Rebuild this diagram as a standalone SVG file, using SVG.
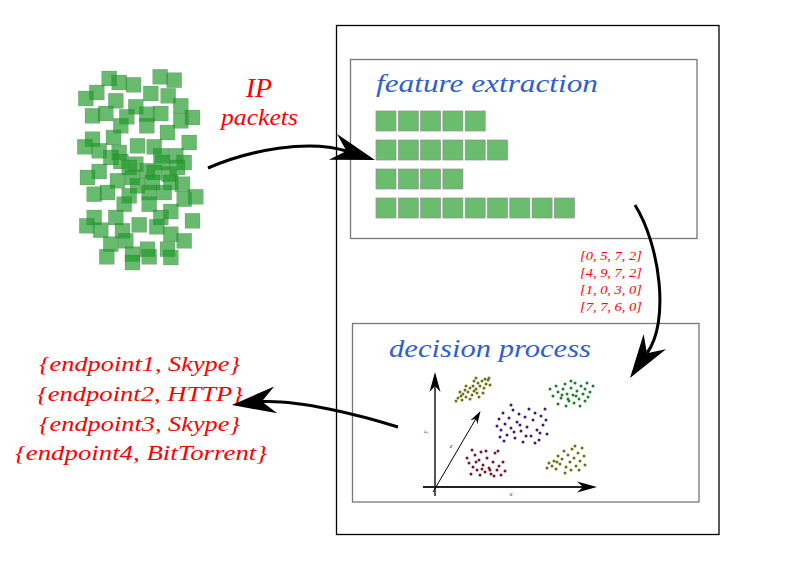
<svg xmlns="http://www.w3.org/2000/svg" xmlns:xlink="http://www.w3.org/1999/xlink" width="795" height="562" viewBox="0 0 795 562">
<style>
.pk{fill:#219b29;fill-opacity:0.68;stroke:#3a3a3a;stroke-opacity:0.2;stroke-width:0.7}
.sq{fill:#69bd6d;stroke:#8f8f8f;stroke-width:0.7}
.box{fill:none;stroke:#777;stroke-width:1.3}
.title{font-family:"Liberation Serif",serif;font-style:italic;font-size:26px;fill:#2f5fd0}
.red{font-family:"Liberation Serif",serif;font-style:italic;fill:#ff0000}
.conn{fill:none;stroke:#000;stroke-width:3}
.ol{fill:#6e6e10}.gr{fill:#1e7d2a}.pu{fill:#3b1a7d}.rd{fill:#7b1620}
.ax{font-family:"Liberation Serif",serif;font-style:italic;font-size:7px;fill:#444}
</style>
<defs>
<path id="stealth" d="M0,0 L-44,-13.5 L-30,0 L-44,13.5 Z" fill="#000"/>
<path id="axhead" d="M0,0 L-20,-5.5 L-14,0 L-20,5.5 Z" fill="#000"/>
<path id="zhead" d="M0,0 L-13,-4 L-9,0 L-13,4 Z" fill="#000"/>
<rect id="p" width="15" height="15" class="pk"/>
<rect id="s" width="20" height="20" class="sq"/>
<circle id="d" r="1.5"/>
</defs>
<rect width="795" height="562" fill="#fff"/>

<g id="packets">
<use href="#p" x="101.7" y="71"/><use href="#p" x="111.7" y="75"/><use href="#p" x="126" y="77.3"/><use href="#p" x="152.7" y="69.3"/><use href="#p" x="166.7" y="72.7"/>
<use href="#p" x="89.3" y="85"/><use href="#p" x="78.3" y="91"/><use href="#p" x="143.3" y="86"/><use href="#p" x="160.7" y="88.3"/><use href="#p" x="108.3" y="93.3"/>
<use href="#p" x="128.3" y="99.3"/><use href="#p" x="173.3" y="98.3"/><use href="#p" x="85" y="108.3"/><use href="#p" x="98.3" y="106"/><use href="#p" x="119.3" y="109.3"/>
<use href="#p" x="139.3" y="106.7"/><use href="#p" x="153.3" y="106"/><use href="#p" x="185" y="110"/><use href="#p" x="173.3" y="113.3"/><use href="#p" x="113.3" y="118.3"/>
<use href="#p" x="139.3" y="118.3"/><use href="#p" x="160" y="125"/><use href="#p" x="85" y="131.7"/><use href="#p" x="106" y="130"/><use href="#p" x="181.7" y="135"/>
<use href="#p" x="77.3" y="139.3"/><use href="#p" x="91.7" y="143.3"/><use href="#p" x="130" y="138.3"/><use href="#p" x="146.7" y="139.3"/><use href="#p" x="111.7" y="145"/>
<use href="#p" x="153.3" y="148.3"/><use href="#p" x="168.3" y="148.3"/><use href="#p" x="103.3" y="150"/><use href="#p" x="113.3" y="154"/><use href="#p" x="128.3" y="156.7"/>
<use href="#p" x="155" y="155"/><use href="#p" x="176.7" y="155"/><use href="#p" x="91.7" y="164"/><use href="#p" x="80" y="170"/><use href="#p" x="121.7" y="160"/>
<use href="#p" x="140" y="163.3"/><use href="#p" x="146.7" y="165"/><use href="#p" x="161.7" y="166.7"/><use href="#p" x="170" y="160"/><use href="#p" x="110" y="173.3"/>
<use href="#p" x="125" y="170"/><use href="#p" x="130" y="178.3"/><use href="#p" x="145" y="175"/><use href="#p" x="163.3" y="175"/><use href="#p" x="175" y="176.7"/>
<use href="#p" x="86.7" y="186.7"/><use href="#p" x="100" y="185"/><use href="#p" x="121.7" y="188.3"/><use href="#p" x="141.7" y="185"/><use href="#p" x="156.7" y="185"/>
<use href="#p" x="176.7" y="191.7"/><use href="#p" x="188.3" y="189.3"/><use href="#p" x="116.7" y="196.7"/><use href="#p" x="141.7" y="196.7"/><use href="#p" x="163.3" y="204"/>
<use href="#p" x="86.7" y="210"/><use href="#p" x="108.3" y="210"/><use href="#p" x="153.3" y="210"/><use href="#p" x="185" y="213.3"/><use href="#p" x="79.3" y="218.3"/>
<use href="#p" x="93.3" y="222.7"/><use href="#p" x="115" y="223.3"/><use href="#p" x="131.7" y="217.3"/><use href="#p" x="149.3" y="219.3"/><use href="#p" x="163.3" y="226.7"/>
<use href="#p" x="176.7" y="233.3"/><use href="#p" x="103.3" y="236.7"/><use href="#p" x="118.3" y="233.3"/><use href="#p" x="140" y="241.7"/><use href="#p" x="160" y="241.7"/>
<use href="#p" x="99.3" y="249.3"/><use href="#p" x="125" y="246.7"/><use href="#p" x="141.7" y="249.3"/><use href="#p" x="163.3" y="250"/><use href="#p" x="125" y="255"/>
</g>

<g id="ip-label">
<text class="red" x="259" y="97" font-size="28" text-anchor="middle">IP</text>
<text class="red" x="221" y="125" font-size="24" textLength="77" lengthAdjust="spacingAndGlyphs">packets</text>
</g>

<g id="system">
<rect x="336.5" y="25.5" width="382.5" height="509" fill="none" stroke="#000" stroke-width="1.3"/>
</g>

<g id="feature-extraction">
<rect class="box" x="350.5" y="59.5" width="346.5" height="179"/>
<text class="title" x="376" y="92" textLength="222" lengthAdjust="spacingAndGlyphs">feature extraction</text>
<use href="#s" x="376" y="111"/><use href="#s" x="398.3" y="111"/><use href="#s" x="420.6" y="111"/><use href="#s" x="442.9" y="111"/><use href="#s" x="465.2" y="111"/>
<use href="#s" x="376" y="140"/><use href="#s" x="398.3" y="140"/><use href="#s" x="420.6" y="140"/><use href="#s" x="442.9" y="140"/><use href="#s" x="465.2" y="140"/><use href="#s" x="487.5" y="140"/>
<use href="#s" x="376" y="169"/><use href="#s" x="398.3" y="169"/><use href="#s" x="420.6" y="169"/><use href="#s" x="442.9" y="169"/>
<use href="#s" x="376" y="198"/><use href="#s" x="398.3" y="198"/><use href="#s" x="420.6" y="198"/><use href="#s" x="442.9" y="198"/><use href="#s" x="465.2" y="198"/><use href="#s" x="487.5" y="198"/><use href="#s" x="509.8" y="198"/><use href="#s" x="532.1" y="198"/><use href="#s" x="554.4" y="198"/>
</g>

<g id="vectors">
<text class="red" font-size="13" x="580" y="260" textLength="62" lengthAdjust="spacingAndGlyphs">[0, 5, 7, 2]</text>
<text class="red" font-size="13" x="580" y="277" textLength="62" lengthAdjust="spacingAndGlyphs">[4, 9, 7, 2]</text>
<text class="red" font-size="13" x="580" y="294" textLength="62" lengthAdjust="spacingAndGlyphs">[1, 0, 3, 0]</text>
<text class="red" font-size="13" x="580" y="311" textLength="62" lengthAdjust="spacingAndGlyphs">[7, 7, 6, 0]</text>
</g>

<g id="decision-process">
<rect class="box" x="352.5" y="323.5" width="346.5" height="178.5"/>
<text class="title" x="389" y="357" textLength="202" lengthAdjust="spacingAndGlyphs">decision process</text>
<line x1="435" y1="386" x2="435" y2="496" stroke="#555" stroke-width="2"/>
<use href="#axhead" transform="translate(435,372) rotate(-90)"/>
<line x1="423" y1="487" x2="584" y2="487" stroke="#222" stroke-width="2"/>
<use href="#axhead" transform="translate(597,487)"/>
<line x1="433" y1="492" x2="476" y2="418.5" stroke="#000" stroke-width="1"/>
<use href="#zhead" transform="translate(480.5,411) rotate(-59.6)"/>
<text class="ax" transform="translate(427,432) rotate(-90)" text-anchor="middle">y</text>
<text class="ax" x="451" y="448" text-anchor="middle">z</text>
<text class="ax" x="511" y="496" text-anchor="middle">x</text>
<g class="ol">
<use href="#d" x="456" y="401"/><use href="#d" x="458" y="398"/><use href="#d" x="461" y="396"/><use href="#d" x="460" y="392"/><use href="#d" x="463" y="394"/><use href="#d" x="466" y="397"/><use href="#d" x="465" y="390"/><use href="#d" x="468" y="392"/><use href="#d" x="470" y="388"/><use href="#d" x="472" y="395"/><use href="#d" x="474" y="391"/><use href="#d" x="473" y="386"/><use href="#d" x="476" y="389"/><use href="#d" x="478" y="383"/><use href="#d" x="477" y="393"/><use href="#d" x="480" y="386"/><use href="#d" x="482" y="381"/><use href="#d" x="484" y="388"/><use href="#d" x="486" y="384"/><use href="#d" x="488" y="380"/><use href="#d" x="490" y="385"/><use href="#d" x="474" y="381"/><use href="#d" x="470" y="399"/><use href="#d" x="479" y="397"/><use href="#d" x="466" y="386"/><use href="#d" x="483" y="393"/><use href="#d" x="489" y="378"/><use href="#d" x="462" y="400"/><use href="#d" x="476" y="378"/><use href="#d" x="485" y="379"/>
<use href="#d" x="547" y="468"/><use href="#d" x="549" y="463"/><use href="#d" x="552" y="466"/><use href="#d" x="554" y="461"/><use href="#d" x="556" y="469"/><use href="#d" x="558" y="456"/><use href="#d" x="560" y="464"/><use href="#d" x="562" y="459"/><use href="#d" x="564" y="451"/><use href="#d" x="566" y="467"/><use href="#d" x="568" y="455"/><use href="#d" x="570" y="462"/><use href="#d" x="572" y="449"/><use href="#d" x="574" y="458"/><use href="#d" x="576" y="466"/><use href="#d" x="578" y="453"/><use href="#d" x="580" y="461"/><use href="#d" x="582" y="448"/><use href="#d" x="584" y="456"/><use href="#d" x="579" y="470"/><use href="#d" x="565" y="473"/><use href="#d" x="571" y="470"/><use href="#d" x="557" y="462"/><use href="#d" x="575" y="446"/><use href="#d" x="585" y="465"/>
</g>
<g class="gr">
<use href="#d" x="550" y="389"/><use href="#d" x="553" y="396"/><use href="#d" x="556" y="386"/><use href="#d" x="558" y="392"/><use href="#d" x="561" y="398"/><use href="#d" x="563" y="389"/><use href="#d" x="565" y="384"/><use href="#d" x="567" y="394"/><use href="#d" x="569" y="401"/><use href="#d" x="571" y="388"/><use href="#d" x="573" y="395"/><use href="#d" x="575" y="383"/><use href="#d" x="577" y="391"/><use href="#d" x="579" y="399"/><use href="#d" x="581" y="386"/><use href="#d" x="583" y="394"/><use href="#d" x="585" y="389"/><use href="#d" x="587" y="383"/><use href="#d" x="590" y="392"/><use href="#d" x="558" y="404"/><use href="#d" x="566" y="406"/><use href="#d" x="574" y="403"/><use href="#d" x="580" y="406"/><use href="#d" x="571" y="381"/><use href="#d" x="562" y="395"/><use href="#d" x="576" y="396"/><use href="#d" x="588" y="397"/><use href="#d" x="593" y="386"/><use href="#d" x="568" y="399"/><use href="#d" x="585" y="401"/>
</g>
<g class="pu">
<use href="#d" x="497" y="426"/><use href="#d" x="499" y="419"/><use href="#d" x="501" y="430"/><use href="#d" x="503" y="413"/><use href="#d" x="505" y="424"/><use href="#d" x="507" y="435"/><use href="#d" x="504" y="441"/><use href="#d" x="509" y="418"/><use href="#d" x="511" y="428"/><use href="#d" x="513" y="410"/><use href="#d" x="515" y="438"/><use href="#d" x="517" y="422"/><use href="#d" x="519" y="414"/><use href="#d" x="521" y="431"/><use href="#d" x="523" y="442"/><use href="#d" x="525" y="417"/><use href="#d" x="527" y="427"/><use href="#d" x="529" y="409"/><use href="#d" x="531" y="436"/><use href="#d" x="533" y="420"/><use href="#d" x="535" y="413"/><use href="#d" x="537" y="430"/><use href="#d" x="539" y="440"/><use href="#d" x="541" y="416"/><use href="#d" x="543" y="425"/><use href="#d" x="545" y="409"/><use href="#d" x="547" y="434"/><use href="#d" x="546" y="420"/><use href="#d" x="511" y="405"/><use href="#d" x="526" y="436"/><use href="#d" x="535" y="443"/><use href="#d" x="520" y="425"/><use href="#d" x="500" y="437"/><use href="#d" x="540" y="433"/><use href="#d" x="514" y="432"/>
</g>
<g class="rd">
<use href="#d" x="467" y="458"/><use href="#d" x="469" y="463"/><use href="#d" x="472" y="450"/><use href="#d" x="473" y="467"/><use href="#d" x="475" y="455"/><use href="#d" x="477" y="470"/><use href="#d" x="479" y="460"/><use href="#d" x="481" y="452"/><use href="#d" x="483" y="465"/><use href="#d" x="485" y="472"/><use href="#d" x="487" y="458"/><use href="#d" x="489" y="468"/><use href="#d" x="491" y="474"/><use href="#d" x="493" y="462"/><use href="#d" x="495" y="453"/><use href="#d" x="497" y="470"/><use href="#d" x="499" y="466"/><use href="#d" x="501" y="475"/><use href="#d" x="503" y="462"/><use href="#d" x="505" y="471"/><use href="#d" x="471" y="474"/><use href="#d" x="480" y="475"/><use href="#d" x="494" y="476"/><use href="#d" x="498" y="451"/><use href="#d" x="486" y="451"/><use href="#d" x="476" y="462"/><use href="#d" x="490" y="470"/><use href="#d" x="482" y="469"/>
</g>
</g>

<g id="results">
<text class="red" font-size="21" x="39" y="371" textLength="201" lengthAdjust="spacingAndGlyphs">{endpoint1, Skype}</text>
<text class="red" font-size="21" x="37" y="401" textLength="206" lengthAdjust="spacingAndGlyphs">{endpoint2, HTTP}</text>
<text class="red" font-size="21" x="39" y="431" textLength="201" lengthAdjust="spacingAndGlyphs">{endpoint3, Skype}</text>
<text class="red" font-size="21" x="15" y="460" textLength="252" lengthAdjust="spacingAndGlyphs">{endpoint4, BitTorrent}</text>
</g>

<g id="connectors">
<path class="conn" d="M208,168 C250,150 308,139 346.5,151"/>
<use href="#stealth" transform="translate(375,160) rotate(17.5)"/>
<path class="conn" d="M635,205 C660,245 670,322 647,353"/>
<use href="#stealth" transform="translate(630,378) rotate(124.3)"/>
<path class="conn" d="M398,427 C360,415 300,400 262,401.6"/>
<use href="#stealth" transform="translate(232,405) rotate(173.4)"/>
</g>
</svg>
